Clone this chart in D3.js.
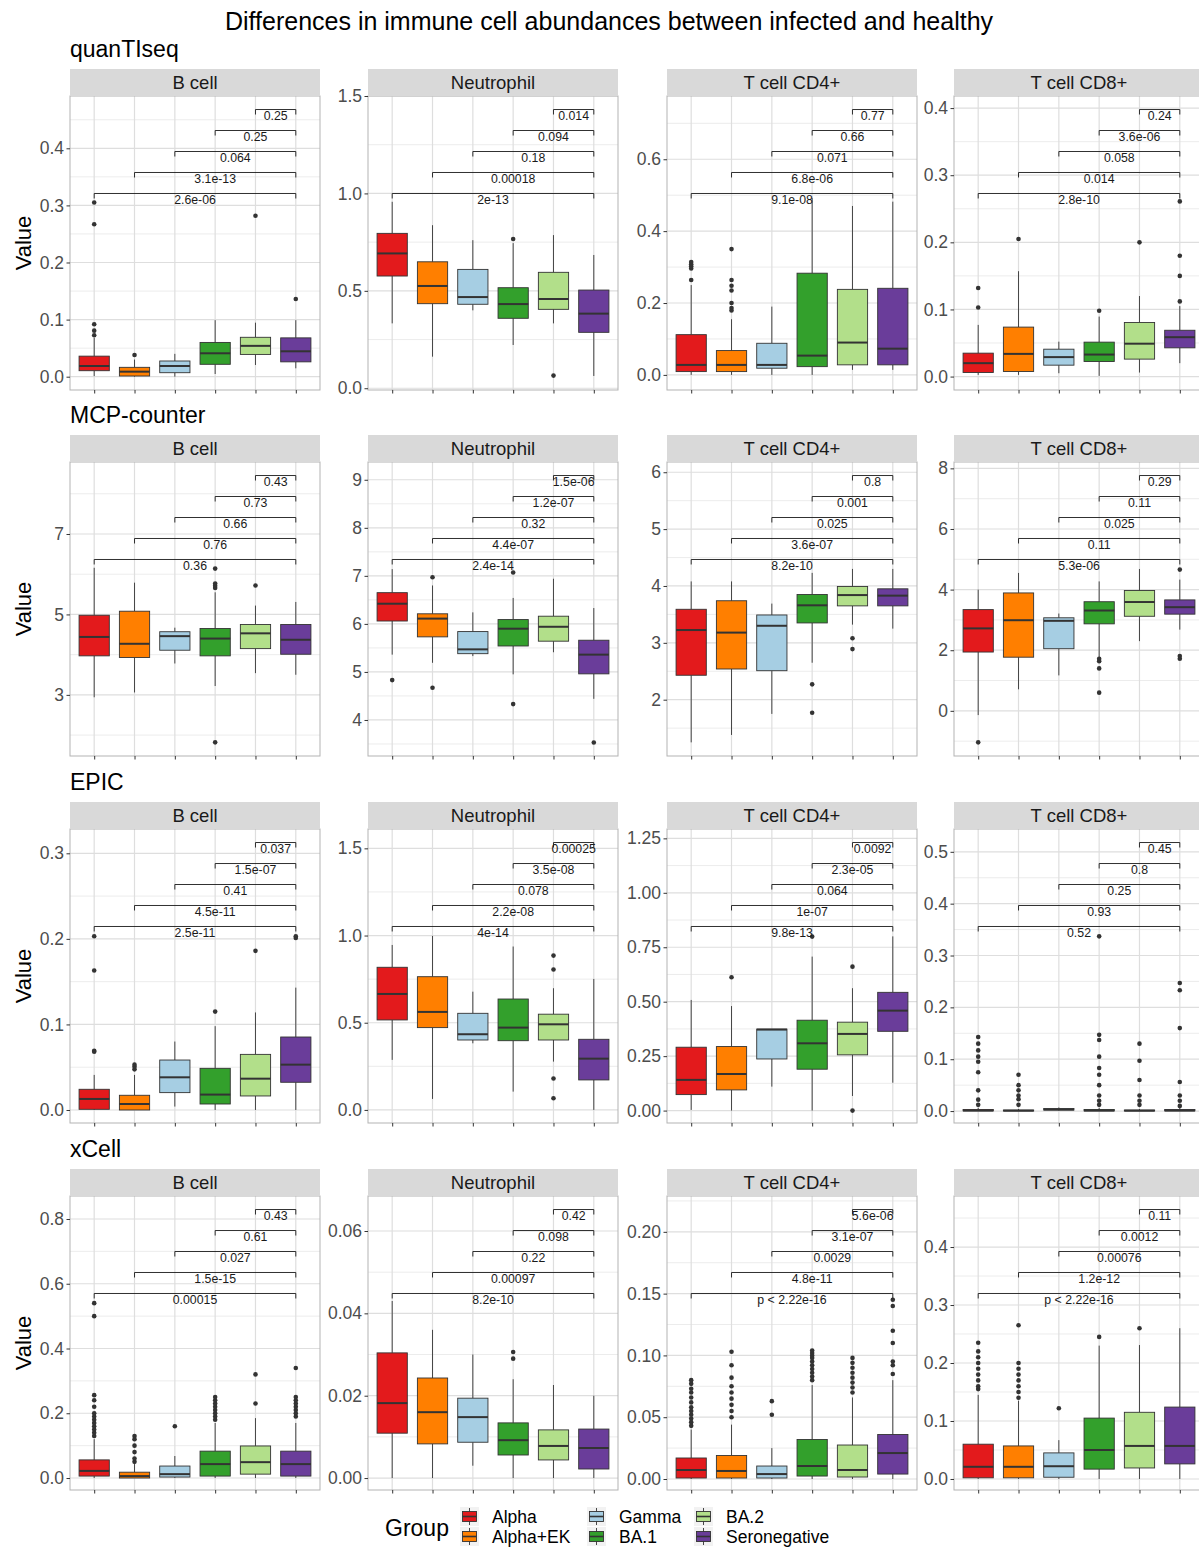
<!DOCTYPE html>
<html>
<head>
<meta charset="utf-8">
<script src="https://cdn.jsdelivr.net/npm/d3@7"></script>
<style>
  body { margin: 0; background: #fff; }
  svg { display: block; font-family: "Liberation Sans", Arial, sans-serif; }
</style>
</head>
<body>
<svg id="chart" width="1199" height="1548"></svg>
<script>
const groups = ["Alpha", "Alpha+EK", "Gamma", "BA.1", "BA.2", "Seronegative"];
const groupColors = ["#E31A1C", "#FF7F00", "#A6CEE3", "#33A02C", "#B2DF8A", "#6A3D9A"];
const cellTypes = ["B cell", "Neutrophil", "T cell CD4+", "T cell CD8+"];
const methods = ["quanTIseq", "MCP-counter", "EPIC", "xCell"];

// box stats per cell type, per group: [lower whisker, Q1, median, Q3, upper whisker]
const quantiseqBoxes = [
  [[0.001, 0.0105, 0.0187, 0.036, 0.068], [0.0, 0.0012, 0.0088, 0.0164, 0.030], [0.0, 0.007, 0.0187, 0.0275, 0.040],
   [0.0047, 0.0217, 0.041, 0.060, 0.099], [0.0205, 0.039, 0.054, 0.069, 0.0946], [0.0147, 0.026, 0.0445, 0.068, 0.099]],
  [[0.333, 0.576, 0.692, 0.795, 0.957], [0.162, 0.434, 0.525, 0.649, 0.837], [0.40, 0.431, 0.468, 0.610, 0.76],
   [0.222, 0.359, 0.432, 0.516, 0.745], [0.333, 0.405, 0.458, 0.595, 0.786], [0.063, 0.287, 0.383, 0.504, 0.684]],
  [[0.0, 0.0092, 0.0278, 0.112, 0.25], [0.0, 0.0092, 0.0278, 0.0677, 0.155], [0.0, 0.0186, 0.0278, 0.088, 0.19],
   [0.0, 0.023, 0.0537, 0.283, 0.492], [0.014, 0.028, 0.090, 0.238, 0.470], [0.014, 0.028, 0.073, 0.241, 0.482]],
  [[0.0025, 0.006, 0.020, 0.0349, 0.077], [0.0025, 0.0075, 0.0338, 0.0737, 0.157], [0.005, 0.017, 0.029, 0.0408, 0.052],
   [0.001, 0.0224, 0.0328, 0.0513, 0.0894], [0.006, 0.026, 0.049, 0.0805, 0.120], [0.020, 0.0428, 0.0587, 0.069, 0.105]]
];
const quantiseqOutliers = [
  [[0.0725, 0.0806, 0.0918, 0.267, 0.305], [0.038], [], [], [0.282], [0.136]],
  [[], [], [], [0.766], [0.065], []],
  [[0.264, 0.296, 0.302, 0.308, 0.314], [0.179, 0.186, 0.2, 0.235, 0.248, 0.264, 0.35], [], [], [], []],
  [[0.103, 0.132], [0.205], [], [0.098], [0.200], [0.112, 0.150, 0.180, 0.261]]
];
const quantiseqPvals = [
  ["0.25", "0.25", "0.064", "3.1e-13", "2.6e-06"],
  ["0.014", "0.094", "0.18", "0.00018", "2e-13"],
  ["0.77", "0.66", "0.071", "6.8e-06", "9.1e-08"],
  ["0.24", "3.6e-06", "0.058", "0.014", "2.8e-10"]
];
const quantiseqDomains = [[-0.0233, 0.4916], [-0.009, 1.5], [-0.042, 0.776], [-0.02, 0.418]];
const quantiseqTicks = [[0, 0.1, 0.2, 0.3, 0.4], [0, 0.5, 1, 1.5], [0, 0.2, 0.4, 0.6], [0, 0.1, 0.2, 0.3, 0.4]];

const mcpBoxes = [
  [[2.94, 3.97, 4.44, 4.98, 6.16], [3.06, 3.93, 4.27, 5.08, 5.79], [3.78, 4.11, 4.46, 4.57, 4.67],
   [3.22, 3.97, 4.40, 4.65, 5.55], [3.54, 4.15, 4.53, 4.75, 5.22], [3.50, 4.01, 4.37, 4.75, 5.31]],
  [[5.36, 6.06, 6.42, 6.65, 7.14], [5.19, 5.73, 6.11, 6.21, 6.8], [5.33, 5.38, 5.47, 5.84, 6.24],
   [4.95, 5.54, 5.90, 6.09, 6.54], [5.41, 5.64, 5.94, 6.16, 6.94], [4.44, 4.96, 5.36, 5.66, 6.33]],
  [[1.25, 2.43, 3.225, 3.59, 4.08], [1.38, 2.54, 3.18, 3.74, 4.08], [1.75, 2.51, 3.30, 3.49, 3.69],
   [2.65, 3.35, 3.66, 3.85, 4.23], [3.32, 3.65, 3.84, 3.99, 4.30], [3.25, 3.65, 3.83, 3.95, 4.30]],
  [[-0.14, 1.94, 2.72, 3.34, 4.0], [0.71, 1.77, 2.99, 3.89, 4.55], [1.17, 2.05, 2.97, 3.07, 3.21],
   [1.77, 2.87, 3.31, 3.60, 4.27], [2.30, 3.12, 3.59, 3.97, 4.68], [2.68, 3.19, 3.42, 3.66, 4.33]]
];
const mcpOutliers = [
  [[], [], [], [1.82, 5.66, 5.71, 5.77, 6.14], [5.72], []],
  [[4.83], [4.67, 6.97], [], [4.33, 7.07], [], [3.53]],
  [[], [], [], [1.77, 2.27], [2.89, 3.08], []],
  [[-1.04], [], [], [0.60, 1.40, 1.64, 1.72], [], [1.72, 1.81, 4.66]]
];
const mcpPvals = [
  ["0.43", "0.73", "0.66", "0.76", "0.36"],
  ["1.5e-06", "1.2e-07", "0.32", "4.4e-07", "2.4e-14"],
  ["0.8", "0.001", "0.025", "3.6e-07", "8.2e-10"],
  ["0.29", "0.11", "0.025", "0.11", "5.3e-06"]
];
const mcpDomains = [[1.48, 8.79], [3.25, 9.37], [1.01, 6.18], [-1.49, 8.21]];
const mcpTicks = [[3, 5, 7], [4, 5, 6, 7, 8, 9], [2, 3, 4, 5, 6], [0, 2, 4, 6, 8]];

const epicBoxes = [
  [[0.0, 0.0008, 0.0129, 0.0242, 0.041], [0.0, 0.0, 0.007, 0.0172, 0.041], [0.004, 0.0203, 0.0382, 0.0584, 0.080],
   [0.0, 0.007, 0.018, 0.0487, 0.098], [0.0, 0.0164, 0.0366, 0.065, 0.114], [0.0, 0.0324, 0.053, 0.0853, 0.143]],
  [[0.287, 0.516, 0.665, 0.818, 0.946], [0.063, 0.472, 0.562, 0.764, 0.998], [0.382, 0.401, 0.434, 0.554, 0.678],
   [0.105, 0.397, 0.472, 0.636, 0.937], [0.277, 0.401, 0.491, 0.549, 0.698], [0.0, 0.172, 0.294, 0.405, 0.751]],
  [[0.003, 0.0734, 0.141, 0.291, 0.508], [0.0, 0.095, 0.168, 0.294, 0.48], [0.110, 0.237, 0.372, 0.374, 0.374],
   [0.0, 0.190, 0.309, 0.415, 0.707], [0.067, 0.256, 0.352, 0.406, 0.562], [0.128, 0.364, 0.459, 0.543, 0.80]],
  [[0.0, 0.0005, 0.001, 0.003, 0.006], [0.0, 0.0003, 0.0008, 0.002, 0.004], [0.001, 0.002, 0.003, 0.005, 0.007],
   [0.0, 0.0004, 0.001, 0.003, 0.006], [0.0, 0.0003, 0.0008, 0.002, 0.004], [0.0, 0.0005, 0.001, 0.003, 0.006]]
];
const epicOutliers = [
  [[0.068, 0.0693, 0.163, 0.203], [0.0475, 0.0506, 0.053], [], [0.115], [0.186], [0.201, 0.203]],
  [[], [], [], [], [0.067, 0.180, 0.805, 0.885], []],
  [[], [0.612], [], [0.799], [0.0, 0.661], []],
  [[0.012, 0.022, 0.04, 0.075, 0.095, 0.105, 0.117, 0.13, 0.143], [0.012, 0.023, 0.03, 0.04, 0.05, 0.07], [],
   [0.012, 0.02, 0.03, 0.05, 0.07, 0.083, 0.105, 0.137, 0.147, 0.337], [0.012, 0.02, 0.03, 0.06, 0.097, 0.13],
   [0.01, 0.02, 0.03, 0.056, 0.16, 0.233, 0.247]]
];
const epicPvals = [
  ["0.037", "1.5e-07", "0.41", "4.5e-11", "2.5e-11"],
  ["0.00025", "3.5e-08", "0.078", "2.2e-08", "4e-14"],
  ["0.0092", "2.3e-05", "0.064", "1e-07", "9.8e-13"],
  ["0.45", "0.8", "0.25", "0.93", "0.52"]
];
const epicDomains = [[-0.0152, 0.3284], [-0.075, 1.611], [-0.057, 1.293], [-0.023, 0.544]];
const epicTicks = [[0, 0.1, 0.2, 0.3], [0, 0.5, 1, 1.5], [0, 0.25, 0.5, 0.75, 1, 1.25], [0, 0.1, 0.2, 0.3, 0.4, 0.5]];

const xcellBoxes = [
  [[0.0, 0.006, 0.022, 0.056, 0.12], [0.0, 0.0, 0.006, 0.018, 0.043], [0.0, 0.003, 0.012, 0.037, 0.068],
   [0.0, 0.006, 0.043, 0.083, 0.17], [0.0, 0.012, 0.049, 0.099, 0.185], [0.0, 0.006, 0.043, 0.083, 0.17]],
  [[0.0, 0.0109, 0.0182, 0.0304, 0.043], [0.0, 0.0083, 0.016, 0.0243, 0.036], [0.003, 0.0087, 0.0148, 0.0194, 0.030],
   [0.0, 0.0056, 0.0092, 0.0134, 0.024], [0.0, 0.0044, 0.0078, 0.0117, 0.0226], [0.0, 0.0022, 0.0073, 0.0119, 0.020]],
  [[0.0, 0.0008, 0.0073, 0.017, 0.04], [0.0, 0.0008, 0.0065, 0.019, 0.044], [0.0, 0.0008, 0.004, 0.0105, 0.025],
   [0.0, 0.0024, 0.0105, 0.032, 0.076], [0.0, 0.0016, 0.0073, 0.0275, 0.066], [0.0, 0.004, 0.021, 0.036, 0.08]],
  [[0.0, 0.002, 0.021, 0.06, 0.145], [0.0, 0.002, 0.021, 0.057, 0.135], [0.0, 0.003, 0.022, 0.045, 0.067],
   [0.0, 0.017, 0.05, 0.105, 0.23], [0.0, 0.019, 0.057, 0.115, 0.231], [0.0, 0.026, 0.057, 0.124, 0.26]]
];
const xcellOutliers = [
  [[0.13, 0.14, 0.15, 0.16, 0.17, 0.18, 0.19, 0.20, 0.22, 0.24, 0.256, 0.50, 0.54], [0.05, 0.06, 0.08, 0.10, 0.12, 0.13],
   [0.16], [0.18, 0.19, 0.20, 0.21, 0.22, 0.23, 0.24, 0.25], [0.23, 0.32], [0.19, 0.20, 0.21, 0.22, 0.23, 0.24, 0.25, 0.34]],
  [[], [], [], [0.029, 0.0306], [], []],
  [[0.043, 0.046, 0.049, 0.052, 0.055, 0.058, 0.062, 0.066, 0.07, 0.073, 0.077, 0.08],
   [0.05, 0.055, 0.06, 0.065, 0.07, 0.075, 0.082, 0.092, 0.103], [0.052, 0.063],
   [0.08, 0.083, 0.086, 0.089, 0.092, 0.095, 0.098, 0.100, 0.102, 0.104],
   [0.07, 0.074, 0.078, 0.082, 0.086, 0.09, 0.094, 0.098], [0.085, 0.092, 0.095, 0.11, 0.12, 0.14, 0.145]],
  [[0.155, 0.16, 0.17, 0.18, 0.19, 0.20, 0.21, 0.22, 0.235], [0.14, 0.15, 0.16, 0.17, 0.18, 0.19, 0.20, 0.265],
   [0.122], [0.245], [0.26], []]
];
const xcellPvals = [
  ["0.43", "0.61", "0.027", "1.5e-15", "0.00015"],
  ["0.42", "0.098", "0.22", "0.00097", "8.2e-10"],
  ["5.6e-06", "3.1e-07", "0.0029", "4.8e-11", "p < 2.22e-16"],
  ["0.11", "0.0012", "0.00076", "1.2e-12", "p < 2.22e-16"]
];
const xcellDomains = [[-0.037, 0.871], [-0.0029, 0.0685], [-0.0089, 0.229], [-0.019, 0.488]];
const xcellTicks = [[0, 0.2, 0.4, 0.6, 0.8], [0, 0.02, 0.04, 0.06], [0, 0.05, 0.1, 0.15, 0.2], [0, 0.1, 0.2, 0.3, 0.4]];

const rows = [
  { boxes: quantiseqBoxes, outliers: quantiseqOutliers, pvals: quantiseqPvals, domains: quantiseqDomains, ticks: quantiseqTicks },
  { boxes: mcpBoxes, outliers: mcpOutliers, pvals: mcpPvals, domains: mcpDomains, ticks: mcpTicks },
  { boxes: epicBoxes, outliers: epicOutliers, pvals: epicPvals, domains: epicDomains, ticks: epicTicks },
  { boxes: xcellBoxes, outliers: xcellOutliers, pvals: xcellPvals, domains: xcellDomains, ticks: xcellTicks }
];

// layout
const colX = [70, 368, 667, 954];
const rowTop = [69, 435, 802, 1169];
const panelW = 250, panelH = 294, stripH = 27;
const font = '"Liberation Sans", Arial, sans-serif';

const svg = d3.select("#chart");
svg.append("rect").attr("width", 1199).attr("height", 1548).attr("fill", "#fff");

svg.append("text")
  .attr("x", 609).attr("y", 30)
  .attr("text-anchor", "middle")
  .attr("font-size", 25)
  .attr("fill", "#000")
  .text("Differences in immune cell abundances between infected and healthy");

function decimals(ticks) {
  return d3.max(ticks, (t) => (String(t).split(".")[1] || "").length);
}

rows.forEach((row, r) => {
  // method subtitle
  svg.append("text")
    .attr("x", 70).attr("y", rowTop[r] - 12)
    .attr("font-size", 23).attr("fill", "#000")
    .text(methods[r]);

  // y title
  const midY = rowTop[r] + stripH + panelH / 2;
  svg.append("text")
    .attr("transform", `translate(31,${midY}) rotate(-90)`)
    .attr("text-anchor", "middle")
    .attr("font-size", 22).attr("fill", "#000")
    .text("Value");

  cellTypes.forEach((cell, c) => {
    const left = colX[c];
    const top = rowTop[r] + stripH;
    const bottom = top + panelH;
    const dom = row.domains[c];
    const ticks = row.ticks[c];

    const x = d3.scalePoint().domain(groups).range([left, left + panelW]).padding(0.6);
    const y = d3.scaleLinear().domain(dom).range([bottom, top]);
    const bw = x.step() * 0.75;

    const g = svg.append("g");

    // grid
    const step = ticks[1] - ticks[0];
    const minor = d3.range(ticks[0] - step / 2, dom[1], step).filter((v) => v >= dom[0] && v <= dom[1]);
    minor.forEach((v) => {
      g.append("line")
        .attr("x1", left).attr("x2", left + panelW)
        .attr("y1", y(v)).attr("y2", y(v))
        .attr("stroke", "#E4E4E4").attr("stroke-width", 0.7);
    });
    ticks.filter((v) => v >= dom[0] && v <= dom[1] + 1e-9).forEach((v) => {
      g.append("line")
        .attr("x1", left).attr("x2", left + panelW)
        .attr("y1", y(v)).attr("y2", y(v))
        .attr("stroke", "#DEDEDE").attr("stroke-width", 1.2);
    });
    groups.forEach((grp) => {
      g.append("line")
        .attr("x1", x(grp)).attr("x2", x(grp))
        .attr("y1", top).attr("y2", bottom)
        .attr("stroke", "#DEDEDE").attr("stroke-width", 1.2);
    });

    // boxes
    groups.forEach((grp, i) => {
      const [lo, q1, med, q3, hi] = row.boxes[c][i];
      const cx = x(grp);
      g.append("line")
        .attr("x1", cx).attr("x2", cx).attr("y1", y(hi)).attr("y2", y(q3))
        .attr("stroke", "#333").attr("stroke-width", 0.9);
      g.append("line")
        .attr("x1", cx).attr("x2", cx).attr("y1", y(q1)).attr("y2", y(lo))
        .attr("stroke", "#333").attr("stroke-width", 0.9);
      g.append("rect")
        .attr("x", cx - bw / 2).attr("y", y(q3))
        .attr("width", bw).attr("height", Math.max(0.5, y(q1) - y(q3)))
        .attr("fill", groupColors[i])
        .attr("stroke", "#333").attr("stroke-width", 0.9);
      g.append("line")
        .attr("x1", cx - bw / 2).attr("x2", cx + bw / 2)
        .attr("y1", y(med)).attr("y2", y(med))
        .attr("stroke", "#333").attr("stroke-width", 2);
      row.outliers[c][i].forEach((v) => {
        g.append("circle")
          .attr("cx", cx).attr("cy", y(v)).attr("r", 2.3)
          .attr("fill", "#333");
      });
    });

    // significance brackets, each group vs Seronegative
    row.pvals[c].forEach((lab, k) => {
      const v = dom[1] - (dom[1] - dom[0]) * (0.046 + 0.0714 * k);
      const yy = y(v);
      const x1 = x(groups[4 - k]);
      const x2 = x(groups[5]);
      g.append("path")
        .attr("d", `M${x1},${yy + 5}V${yy}H${x2}V${yy + 5}`)
        .attr("fill", "none").attr("stroke", "#1a1a1a").attr("stroke-width", 0.9);
      g.append("text")
        .attr("x", (x1 + x2) / 2).attr("y", yy + 10.5)
        .attr("text-anchor", "middle")
        .attr("font-size", 12.3).attr("fill", "#1a1a1a")
        .text(lab);
    });

    // panel border
    g.append("rect")
      .attr("x", left).attr("y", top)
      .attr("width", panelW).attr("height", panelH)
      .attr("fill", "none").attr("stroke", "#B3B3B3").attr("stroke-width", 1);

    // strip
    g.append("rect")
      .attr("x", left).attr("y", rowTop[r])
      .attr("width", panelW).attr("height", stripH)
      .attr("fill", "#D9D9D9");
    g.append("text")
      .attr("x", left + panelW / 2).attr("y", rowTop[r] + 20)
      .attr("text-anchor", "middle")
      .attr("font-size", 18.5).attr("fill", "#1A1A1A")
      .text(cell);

    // axes
    const fmt = d3.format(`.${decimals(ticks)}f`);
    const yAxis = g.append("g")
      .attr("transform", `translate(${left},0)`)
      .call(d3.axisLeft(y).tickValues(ticks.filter((v) => v >= dom[0] && v <= dom[1] + 1e-9))
        .tickSize(3.5).tickPadding(2.5).tickFormat(fmt));
    yAxis.select(".domain").remove();
    yAxis.selectAll("line").attr("stroke", "#333");
    yAxis.selectAll("text").attr("fill", "#4D4D4D").attr("font-size", 17.5).attr("font-family", font);

    const xAxis = g.append("g")
      .attr("transform", `translate(0,${bottom})`)
      .call(d3.axisBottom(x).tickSize(3.5).tickFormat(""));
    xAxis.select(".domain").remove();
    xAxis.selectAll("line").attr("stroke", "#333");
  });
});

// legend
const legend = svg.append("g");
legend.append("text")
  .attr("x", 385).attr("y", 1536)
  .attr("font-size", 23).attr("fill", "#000")
  .text("Group");

const keyX = [460, 587, 694];
const keyY = [1507, 1527];
groups.forEach((grp, i) => {
  const kx = keyX[Math.floor(i / 2)];
  const ky = keyY[i % 2];
  const key = legend.append("g");
  key.append("rect")
    .attr("x", kx).attr("y", ky).attr("width", 19).attr("height", 19)
    .attr("fill", "#F2F2F2");
  key.append("line")
    .attr("x1", kx + 9.5).attr("x2", kx + 9.5).attr("y1", ky + 1).attr("y2", ky + 18)
    .attr("stroke", "#333").attr("stroke-width", 0.9);
  key.append("rect")
    .attr("x", kx + 2.5).attr("y", ky + 4.5).attr("width", 14).attr("height", 10)
    .attr("fill", groupColors[i]).attr("stroke", "#333").attr("stroke-width", 0.9);
  key.append("line")
    .attr("x1", kx + 2.5).attr("x2", kx + 16.5).attr("y1", ky + 9.5).attr("y2", ky + 9.5)
    .attr("stroke", "#333").attr("stroke-width", 1.6);
  legend.append("text")
    .attr("x", kx + 32).attr("y", ky + 16)
    .attr("font-size", 17.5).attr("fill", "#000")
    .text(grp);
});
</script>
</body>
</html>
